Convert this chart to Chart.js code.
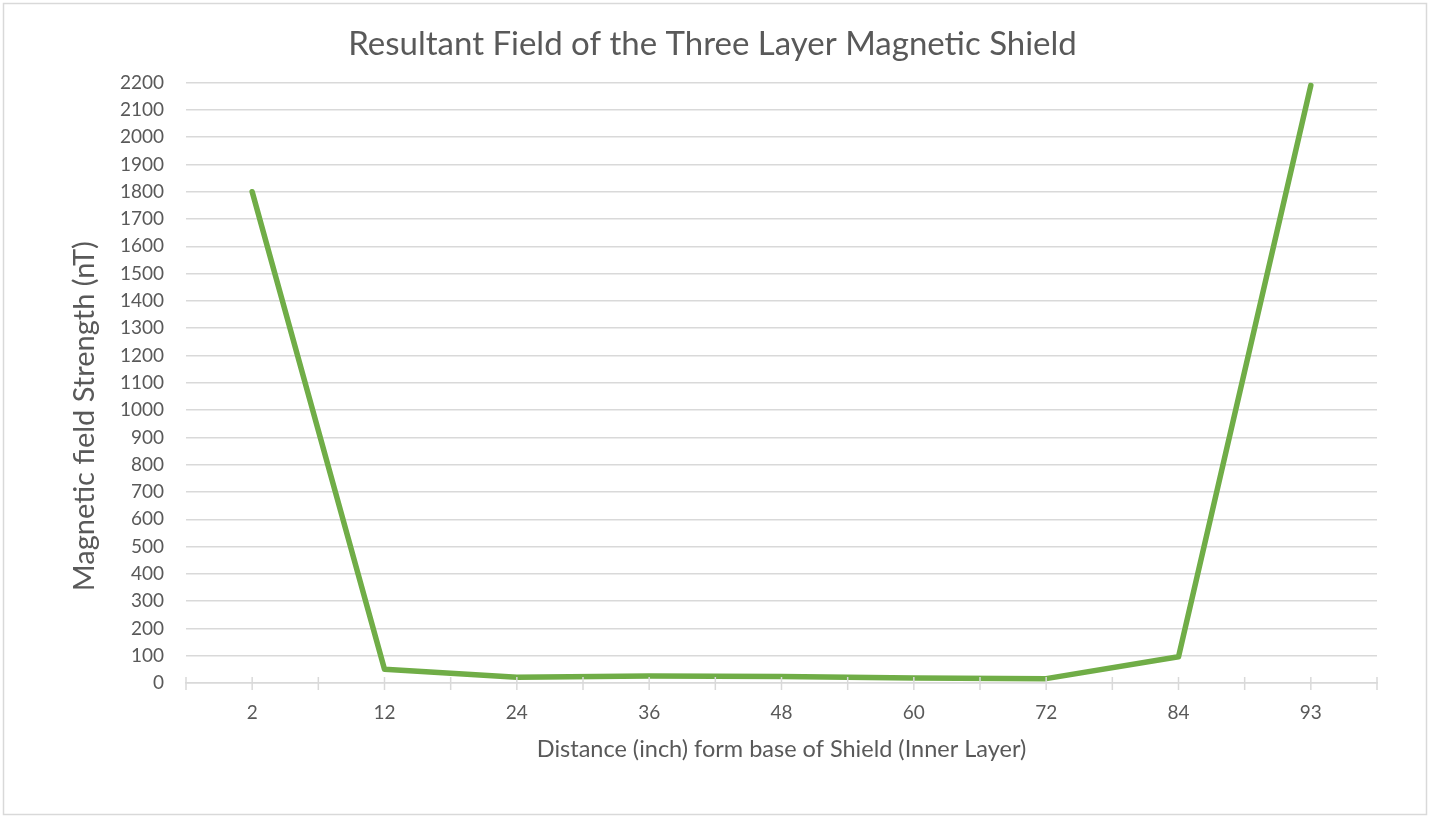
<!DOCTYPE html>
<html>
<head>
<meta charset="utf-8">
<script src="https://cdn.jsdelivr.net/npm/chart.js@4/dist/chart.umd.min.js"></script>
<style>
  html, body { margin: 0; padding: 0; background: #fff; }
  #wrap { width: 1430px; height: 819px; }
</style>
</head>
<body>
<div id="wrap"><canvas id="chart" width="1430" height="819"></canvas></div>
<script>
// distance from base of shield, inches
const distances = ['2', '12', '24', '36', '48', '60', '72', '84', '93'];
// resultant field, nT
const fieldStrength = [1800, 50, 21, 26, 24, 18, 16, 96, 2190];

const yMin = 0;
const yMax = 2200;
const yStep = 100;

const FONT = 'Lato, "Open Sans", sans-serif';
const GREY_TEXT = '#595959';
const GRID = '#d9d9d9';

// excel-ish cross tick marks on the category axis + outer chart border
const extras = {
  id: 'extras',
  afterDraw(chart) {
    const ctx = chart.ctx;
    const x = chart.scales.x;
    const y0 = chart.chartArea.bottom;
    ctx.save();
    ctx.strokeStyle = GRID;
    ctx.lineWidth = 1.5;
    const n = x.ticks.length;
    for (let i = 0; i <= n * 2; i++) {
      const px = x.getPixelForValue(i / 2 - 0.5);
      ctx.beginPath();
      ctx.moveTo(px, y0 - 6);
      ctx.lineTo(px, y0 + 7);
      ctx.stroke();
    }
    ctx.strokeRect(3.5, 3.5, chart.width - 7, chart.height - 8);
    ctx.restore();
  }
};

new Chart(document.getElementById('chart'), {
  type: 'line',
  data: {
    labels: distances,
    datasets: [{
      label: 'Resultant field',
      data: fieldStrength,
      borderColor: '#70ad47',
      borderWidth: 5.5,
      pointRadius: 0,
      tension: 0,
      borderJoinStyle: 'round',
      borderCapStyle: 'round'
    }]
  },
  plugins: [extras],
  options: {
    responsive: false,
    animation: false,
    layout: { padding: { left: 48, right: 53, top: 0, bottom: 0 } },
    plugins: {
      legend: { display: false },
      tooltip: { enabled: false },
      title: {
        display: true,
        text: 'Resultant Field of the Three Layer Magnetic Shield',
        color: GREY_TEXT,
        font: { family: FONT, size: 33, weight: 'normal' },
        padding: { top: 25, bottom: 18 }
      }
    },
    scales: {
      x: {
        offset: true,
        grid: { display: false, drawTicks: false },
        border: { display: true, color: GRID, width: 1.5 },
        ticks: { color: GREY_TEXT, font: { family: FONT, size: 19 }, padding: 18 },
        title: {
          display: true,
          text: 'Distance (inch) form base of Shield (Inner Layer)',
          color: GREY_TEXT,
          font: { family: FONT, size: 23.5 },
          padding: { top: 0, bottom: 55 }
        },
        afterFit(scale) { scale.height = 136; }
      },
      y: {
        min: yMin,
        max: yMax,
        grid: { color: GRID, lineWidth: 1.5, drawTicks: false },
        border: { display: false },
        ticks: {
          stepSize: yStep,
          color: GREY_TEXT,
          font: { family: FONT, size: 19 },
          padding: 22,
          callback: (v) => String(v)
        },
        title: {
          display: true,
          // trailing spaces nudge the rotated title down a bit, like the original
          text: 'Magnetic field Strength (nT)         ',
          color: GREY_TEXT,
          font: { family: FONT, size: 29 },
          padding: { top: 19, bottom: 0 }
        },
        afterFit(scale) { scale.width = 138; }
      }
    }
  }
});
</script>
</body>
</html>
